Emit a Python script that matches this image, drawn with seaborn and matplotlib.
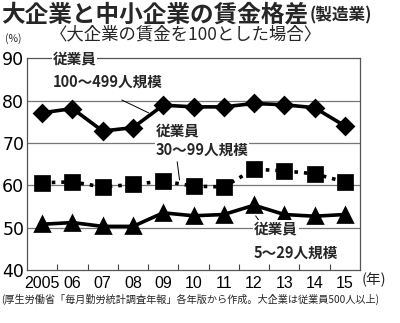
import matplotlib
matplotlib.use("Agg")
import matplotlib.pyplot as plt
import seaborn as sns
import numpy as np

years = ["2005", "06", "07", "08", "09", "10", "11", "12", "13", "14", "15"]
large = [77.1, 78.1, 72.8, 73.6, 78.9, 78.5, 78.5, 79.3, 79.0, 78.3, 74.0]
mid = [60.6, 60.8, 59.6, 60.2, 61.0, 59.8, 59.6, 63.8, 63.4, 62.7, 60.8]
small = [50.8, 51.2, 50.3, 50.3, 53.5, 52.8, 53.1, 55.3, 53.1, 52.7, 53.1]
yticks = [40, 50, 60, 70, 80, 90]

sns.set_theme(style="white")
plt.rcParams['font.family'] = ['Noto Sans CJK JP', 'DejaVu Sans']

fig = plt.figure(figsize=(4.0, 3.23), dpi=100)
ax = fig.add_axes([0.0675, 0.164, 0.8325, 0.656])

for vals, mk, ls, ms in [(large, "D", "-", 8.5), (mid, "s", ":", 10.5), (small, "^", "-", 9.5)]:
    sns.pointplot(x=years, y=vals, color="black", markers=mk, linestyles=ls,
                  ax=ax, linewidth=2.6, markersize=ms, zorder=3)

ax.set_xlim(-0.5, len(years) - 0.5)
ax.set_ylim(40, 90)
ax.set_yticks(yticks)
ax.set_yticklabels([str(v) for v in yticks], fontsize=12.5, family=['DejaVu Sans'])
ax.set_xticks(range(len(years)))
ax.set_xticklabels(years, fontsize=11.5, family=['Liberation Sans', 'DejaVu Sans'])
ax.set_xticks(np.arange(0.5, len(years) - 0.5, 1), minor=True)
ax.tick_params(axis='x', which='major', length=0, pad=4, colors='black')
ax.tick_params(axis='x', which='minor', direction='in', length=4, width=0.8, color='#444444', bottom=True)
ax.tick_params(axis='y', length=0, pad=2, colors='black')
ax.set_xlabel("")
ax.set_ylabel("")
for y in [50, 60, 70, 80]:
    ax.axhline(y, color='#777777', lw=0.9, zorder=1)
for s in ax.spines.values():
    s.set_color('#555555')
    s.set_linewidth(0.9)

bb = dict(facecolor='white', edgecolor='none', pad=0.5)
fw = 'bold'
# annotations
ax.annotate("", xy=(3.6, 76.8), xytext=(2.55, 80.4),
            arrowprops=dict(arrowstyle='-', color='black', lw=0.7), zorder=2)
ax.text(0.35, 90, "従業員", fontsize=10.5, fontweight=fw, va='center', ha='left', bbox=bb, zorder=4)
ax.text(0.35, 84.4, "100～499人規模", fontsize=10.5, fontweight=fw, va='center', ha='left', bbox=bb, zorder=4)

ax.annotate("", xy=(4.55, 60.6), xytext=(4.45, 66.2),
            arrowprops=dict(arrowstyle='-', color='black', lw=0.7), zorder=2)
ax.text(3.75, 72.9, "従業員", fontsize=10.5, fontweight=fw, va='center', ha='left', bbox=bb, zorder=4)
ax.text(3.75, 68.3, "30～99人規模", fontsize=10.5, fontweight=fw, va='center', ha='left', bbox=bb, zorder=4)

ax.annotate("", xy=(7.3, 50.3), xytext=(7.0, 53.3),
            arrowprops=dict(arrowstyle='-', color='black', lw=0.7), zorder=2)
ax.text(7.0, 49.8, "従業員", fontsize=10.5, fontweight=fw, va='center', ha='left', bbox=bb, zorder=4)
ax.text(7.0, 44.1, "5～29人規模", fontsize=10.5, fontweight=fw, va='center', ha='left', bbox=bb, zorder=4)

# titles
fig.text(0.003, 0.955, "大企業と中小企業の賃金格差", fontsize=17, fontweight='bold', va='center', ha='left')
fig.text(0.775, 0.952, "(製造業)", fontsize=12, fontweight='bold', va='center', ha='left')
fig.text(0.125, 0.895, "〈大企業の賃金を100とした場合〉", fontsize=12.5, va='center', ha='left')
fig.text(0.012, 0.88, "(%)", fontsize=7.5, va='center', ha='left')
fig.text(0.903, 0.133, "(年)", fontsize=10.5, va='center', ha='left')
fig.text(0.003, 0.072, "(厚生労働省「毎月勤労統計調査年報」各年版から作成。大企業は従業員500人以上)",
         fontsize=7.3, va='center', ha='left')

fig.savefig("out.png", dpi=100)
